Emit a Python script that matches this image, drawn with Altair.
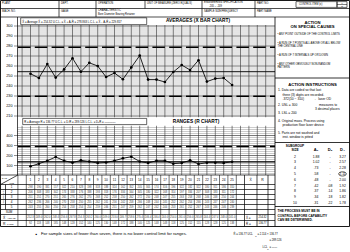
import altair as alt
import pandas as pd

W, H = 350, 252
FONT = "Liberation Sans"

# ---------------- data ----------------
subgroups = list(range(1, 26))
averages = [252.3, 248.0, 262.0, 248.4, 256.6, 267.8, 254.3, 263.2, 260.0, 249.0,
            253.0, 246.7, 258.6, 270.4, 246.4, 246.4, 244.0, 254.0, 261.0, 256.0,
            265.8, 244.4, 247.4, 248.0, 241.0]
ranges_ = [92, 118, 148, 185, 148, 128, 152, 140, 125, 130, 148, 172, 188, 140, 125,
           148, 148, 118, 125, 152, 115, 128, 128, 125, 138]
meas1 = [298, 190, 331, 157, 322, 210, 328, 198, 318, 188, 324, 162, 352, 205, 305, 174, 316, 196, 322, 182, 322, 180, 311, 186, 310]
meas2 = [206, 308, 183, 342, 174, 338, 176, 338, 193, 318, 176, 334, 164, 345, 180, 322, 168, 314, 197, 334, 207, 308, 183, 311, 172]
meas3 = [251, 251, 270, 251, 265, 276, 262, 270, 268, 252, 258, 250, 262, 272, 250, 248, 247, 255, 263, 258, 268, 246, 248, 250, 244]
meas4 = [262, 236, 266, 240, 270, 258, 250, 255, 262, 241, 256, 242, 258, 266, 248, 244, 245, 252, 262, 254, 266, 243, 247, 247, 240]
meas5 = [243, 255, 260, 250, 254, 258, 254, 254, 259, 246, 251, 247, 259, 262, 247, 242, 244, 253, 261, 252, 267, 243, 246, 246, 239]

xbar_center, xbar_ucl, xbar_lcl = 254.32, 278.863, 229.817
r_center, r_ucl = 136.77, 289.126
avg_ticks = [210, 220, 230, 240, 250, 260, 270, 280, 290, 300]
range_ticks = [100, 200, 300, 400]

sub_sizes = ["2", "3", "4", "5", "6", "7", "8", "9", "10"]
a2_vals = ["1.88", "1.02", ".73", ".58", ".48", ".42", ".37", ".34", ".31"]
d3_vals = ["-", "-", "-", "-", "-", ".08", ".14", ".18", ".22"]
d4_vals = ["3.27", "2.57", "2.28", "2.11", "2.00", "1.92", "1.86", "1.82", "1.78"]

XB = "X\u0304"
RB = "R\u0304"

# ---------------- scales ----------------
PXS = alt.Scale(domain=[0, W], range=[0, W], nice=False, zero=False)
PYS = alt.Scale(domain=[0, H], range=[0, H], nice=False, zero=False)
SUBX = alt.Scale(domain=[1, 25], range=[30.5, 232.1], nice=False, zero=False)
AVGY = alt.Scale(domain=[210, 300], range=[116, 26], nice=False, zero=False)
RNGY = alt.Scale(domain=[0, 400], range=[175.5, 135.5], nice=False, zero=False)


def T(rows, size, weight="normal", align="left", color="black", angle=0):
    df = pd.DataFrame(rows, columns=["t", "x", "y"])
    kw = dict(fontSize=size, fontWeight=weight, align=align, baseline="middle",
              font=FONT, color=color)
    if angle:
        kw["angle"] = angle
    return alt.Chart(df).mark_text(**kw).encode(
        x=alt.X("x:Q", scale=PXS, axis=None),
        y=alt.Y("y:Q", scale=PYS, axis=None),
        text="t:N")


def S(rows, color="black", width=0.8, dash=None):
    df = pd.DataFrame(rows, columns=["x", "y", "x2", "y2"])
    kw = dict(color=color, strokeWidth=width)
    if dash:
        kw["strokeDash"] = dash
    return alt.Chart(df).mark_rule(**kw).encode(
        x=alt.X("x:Q", scale=PXS, axis=None),
        y=alt.Y("y:Q", scale=PYS, axis=None),
        x2="x2:Q", y2="y2:Q")


def BOX(rows, fill="white", stroke="black", width=0.7, fill_op=1.0):
    df = pd.DataFrame(rows, columns=["x", "y", "x2", "y2"])
    return alt.Chart(df).mark_rect(fill=fill, fillOpacity=fill_op, stroke=stroke,
                                   strokeWidth=width).encode(
        x=alt.X("x:Q", scale=PXS, axis=None),
        y=alt.Y("y:Q", scale=PYS, axis=None),
        x2="x2:Q", y2="y2:Q")


L = []

# ---------------- averages chart grid ----------------
L.append(alt.Chart(pd.DataFrame({"v": list(range(210, 301, 2))})).mark_rule(
    color="#a0a0a0", strokeWidth=0.55).encode(
    y=alt.Y("v:Q", scale=AVGY, axis=None), x=alt.value(17.5), x2=alt.value(275)))
L.append(alt.Chart(pd.DataFrame({"v": avg_ticks})).mark_rule(
    color="#333", strokeWidth=0.55).encode(
    y=alt.Y("v:Q", scale=AVGY, axis=None), x=alt.value(14), x2=alt.value(275)))
L.append(alt.Chart(pd.DataFrame({"i": list(range(0, 30))})).mark_rule(
    color="#333", strokeWidth=0.6).encode(
    x=alt.X("i:Q", scale=SUBX, axis=None), y=alt.value(25), y2=alt.value(117.5)))

# ---------------- range chart grid ----------------
L.append(alt.Chart(pd.DataFrame({"v": list(range(20, 481, 20))})).mark_rule(
    color="#a0a0a0", strokeWidth=0.55).encode(
    y=alt.Y("v:Q", scale=RNGY, axis=None), x=alt.value(17.5), x2=alt.value(275)))
L.append(alt.Chart(pd.DataFrame({"v": range_ticks})).mark_rule(
    color="#333", strokeWidth=0.55).encode(
    y=alt.Y("v:Q", scale=RNGY, axis=None), x=alt.value(14), x2=alt.value(275)))
L.append(alt.Chart(pd.DataFrame({"i": list(range(0, 30))})).mark_rule(
    color="#333", strokeWidth=0.6).encode(
    x=alt.X("i:Q", scale=SUBX, axis=None), y=alt.value(125.5), y2=alt.value(175)))

# axis labels
L.append(alt.Chart(pd.DataFrame({"v": avg_ticks})).mark_text(
    fontSize=3.8, align="right", baseline="middle", font=FONT).encode(
    y=alt.Y("v:Q", scale=AVGY, axis=None), x=alt.value(12.5), text="v:Q"))
L.append(alt.Chart(pd.DataFrame({"v": range_ticks})).mark_text(
    fontSize=3.8, align="right", baseline="middle", font=FONT).encode(
    y=alt.Y("v:Q", scale=RNGY, axis=None), x=alt.value(12.5), text="v:Q"))

# white strips with label boxes and titles
L.append(BOX([(17.5, 17, 275, 25), (17.5, 117.5, 275, 125.5)], stroke="white", width=0))
L.append(BOX([(20.7, 17.8, 146.7, 24.6), (22.7, 118.4, 146.7, 124.6)], width=0.6))
L.append(T([(f"{XB} = Average {XB} = 254.32   U.C.L. = {XB} + A\u2082{RB} = 278.863   L.C.L. = {XB} \u2212 A\u2082{RB} = 229.817", 22.3, 21.3)], 2.8))
L.append(T([(f"{RB} = Average R = 136.77   U.C.L. = D\u2084{RB} = 289.126   L.C.L. = D\u2083{RB} = \u2014\u2014\u2014\u2014", 24.3, 121.5)], 2.8))
L.append(T([(f"AVERAGES ({XB} BAR CHART)", 198, 21.4), ("RANGES (R CHART)", 196, 121.6)], 4.8, weight="bold", align="center"))

# ---------------- control lines ----------------
L.append(alt.Chart(pd.DataFrame({"v": [xbar_ucl, xbar_lcl]})).mark_rule(
    color="black", strokeWidth=1.5, strokeDash=[12.5, 4.3]).encode(
    y=alt.Y("v:Q", scale=AVGY, axis=None), x=alt.value(18), x2=alt.value(275)))
L.append(alt.Chart(pd.DataFrame({"v": [xbar_center]})).mark_rule(
    color="black", strokeWidth=0.9).encode(
    y=alt.Y("v:Q", scale=AVGY, axis=None), x=alt.value(17.5), x2=alt.value(275)))
L.append(alt.Chart(pd.DataFrame({"v": [r_ucl]})).mark_rule(
    color="black", strokeWidth=1.5, strokeDash=[12.5, 4.3]).encode(
    y=alt.Y("v:Q", scale=RNGY, axis=None), x=alt.value(18), x2=alt.value(275)))
L.append(alt.Chart(pd.DataFrame({"v": [r_center]})).mark_rule(
    color="black", strokeWidth=1.2).encode(
    y=alt.Y("v:Q", scale=RNGY, axis=None), x=alt.value(17.5), x2=alt.value(275)))

# ---------------- data ----------------
avg_df = pd.DataFrame({"s": subgroups, "v": averages})
rng_df = pd.DataFrame({"s": subgroups, "v": ranges_})
for df, ys in ((avg_df, AVGY), (rng_df, RNGY)):
    L.append(alt.Chart(df).mark_line(color="black", strokeWidth=0.85).encode(
        x=alt.X("s:Q", scale=SUBX, axis=None), y=alt.Y("v:Q", scale=ys, axis=None)))
    L.append(alt.Chart(df).mark_point(filled=True, color="black", size=7, opacity=1).encode(
        x=alt.X("s:Q", scale=SUBX, axis=None), y=alt.Y("v:Q", scale=ys, axis=None)))

# ---------------- header ----------------
L.append(S([(0.5, 8.5, 349.5, 8.5), (0.5, 17, 349.5, 17),
            (59, 0.5, 59, 17), (96, 0.5, 96, 17), (145, 0.5, 145, 8.5),
            (202, 0.5, 202, 17), (255, 0.5, 255, 17)], width=0.7))
L.append(BOX([(296, 1.6, 337, 7.4), (337, 1.6, 347, 7.4)], width=0.6, fill_op=0))
L.append(S([(337, 4.5, 347, 4.5)], width=0.5))
L.append(T([("PLANT", 2, 3.2), ("DEPT.", 61, 3.2), ("OPERATION", 98, 3.2),
            ("UNIT OF MEASURE   (ZERO EQUALS)", 147, 3.2),
            ("ENGINEERING SPECIFICATION", 204, 2.8), (".205  \u2013  .209", 209, 6.3),
            ("PART NO.", 257, 3.2), ("CONTROL ITEM (x)", 299, 4.6),
            ("MACH. NO.", 2, 11), ("GAGE", 61, 11), ("CHARACTERISTIC", 98, 10.6),
            ("Bore Diameter Bearing Retainer", 98, 14.2),
            ("SAMPLE SIZE/FREQUENCY", 204, 11), ("PART NAME", 257, 11)], 2.6))
L.append(T([(XB, 342, 3.1), ("R", 342, 6.0)], 2.4, align="center"))

# ---------------- right panel ----------------
L.append(S([(275, 17, 275, 226.5), (275, 78, 349.5, 78), (275, 142.5, 349.5, 142.5),
            (275, 206.5, 349.5, 206.5)], width=0.8))
L.append(T([("ACTION", 312.5, 22.5), ("ON SPECIAL CAUSES", 312.5, 27.4),
            ("ACTION INSTRUCTIONS", 312.5, 85)], 4.2, weight="bold", align="center"))
L.append(T([("\u2022 ANY POINT OUTSIDE OF THE CONTROL LIMITS", 277.5, 34.4),
            ("\u2022 A RUN OF 7 POINTS ALL ABOVE OR ALL BELOW", 277.5, 43.3),
            ("   THE CENTRAL LINE", 277.5, 46.8),
            ("\u2022 A RUN OF 7 INTERVALS UP OR DOWN", 277.5, 55.4),
            ("\u2022 ANY OTHER OBVIOUSLY NON-RANDOM", 277.5, 64.3),
            ("   PATTERN", 277.5, 67.8)], 2.7))
L.append(T([("1. Data are coded so that last", 278, 90.2),
            ("three (3) digits are recorded.", 282.5, 94.8),
            (".372(10 \u2212 310)", 282.5, 99.4), ("\u2190 laser OD", 314, 99.4),
            ("2. USL = 300", 278, 104.5), ("measures to", 319, 104.5),
            ("3 decimal places", 315, 109),
            ("3. LSL = 200", 278, 113),
            ("4. Original mass. Process using", 278, 120.8),
            ("production floor laser device", 282.5, 125.3),
            ("5. Parts are not washed and", 278, 132.8),
            ("inst. window is pitted", 282.5, 137.4)], 3.3))
L.append(T([("SUBGROUP", 295, 146), ("SIZE", 295, 150.2)], 3.2, weight="bold", align="center"))
L.append(T([("A\u2082", 316, 149.5), ("D\u2083", 330, 149.5), ("D\u2084", 342.5, 149.5)], 4.0, weight="bold", align="center"))
row_y = [156.5 + 5.8 * k for k in range(len(sub_sizes))]
L.append(T([(v, 295, y) for v, y in zip(sub_sizes, row_y)]
           + [(v, 316, y) for v, y in zip(a2_vals, row_y)]
           + [(v, 330, y) for v, y in zip(d3_vals, row_y)]
           + [(v, 342.5, y) for v, y in zip(d4_vals, row_y)], 3.4, align="center"))
L.append(alt.Chart(pd.DataFrame({"x": [342.5], "y": [row_y[3]]})).mark_point(
    shape="M-1,0 A1,0.55 0 1,1 1,0 A1,0.55 0 1,1 -1,0 Z", size=60, filled=False,
    color="black", strokeWidth=0.6, opacity=1).encode(
    x=alt.X("x:Q", scale=PXS, axis=None), y=alt.Y("y:Q", scale=PYS, axis=None)))
L.append(T([("THE PROCESS MUST BE IN", 277.5, 211.3),
            ("CONTROL BEFORE CAPABILITY", 277.5, 215.8),
            ("CAN BE DETERMINED.", 277.5, 220.3)], 3.2, weight="bold"))

# ---------------- data table ----------------
tbl_h = [175, 184.5, 189.5, 194.5, 199.5, 204.5, 209.5, 214.5, 220.5]
L.append(S([(0.5, y, 275, y) for y in tbl_h], width=0.7))
L.append(S([(17.5, 17, 17.5, 175), (5.5, 184.5, 5.5, 209.5), (0.5, 184.5, 17.9, 175),
            (244.5, 175, 244.5, 226.5), (257, 175, 257, 226.5), (268, 175, 268, 226.5)], width=0.7))
L.append(alt.Chart(pd.DataFrame({"i": [k + 0.5 for k in range(-1, 26)]})).mark_rule(
    color="black", strokeWidth=0.55).encode(
    x=alt.X("i:Q", scale=SUBX, axis=None), y=alt.value(175), y2=alt.value(226.5)))
L.append(alt.Chart(pd.DataFrame({"s": subgroups})).mark_text(
    fontSize=3.2, align="center", baseline="middle", font=FONT).encode(
    x=alt.X("s:Q", scale=SUBX, axis=None), y=alt.value(180), text="s:Q"))
L.append(T([(XB, 250.7, 180), ("R", 262.5, 180)], 3.4, align="center"))
L.append(T([("DATE", 2, 177.5), ("TIME", 9.5, 182.5)], 1.9))

cells = []
for row, y in zip([meas1, meas2, meas3, meas4, meas5], [187, 192, 197, 202, 207]):
    for s, v in zip(subgroups, row):
        cells.append({"s": s, "y": y, "t": str(v)})
for s, v in zip(subgroups, averages):
    cells.append({"s": s, "y": 217.5, "t": f"{v:.1f}"})
for s, v in zip(subgroups, ranges_):
    cells.append({"s": s, "y": 223.5, "t": str(v)})
L.append(alt.Chart(pd.DataFrame(cells)).mark_text(
    fontSize=2.6, align="center", baseline="middle", font=FONT, color="#333").encode(
    x=alt.X("s:Q", scale=SUBX, axis=None), y=alt.Y("y:Q", scale=PYS, axis=None), text="t:N"))

L.append(T([("1", 11.5, 187), ("2", 11.5, 192), ("3", 11.5, 197), ("4", 11.5, 202),
            ("5", 11.5, 207), ("SUM", 9, 212)], 3.0, align="center"))
L.append(T([(XB, 3, 217.5), ("R", 3, 223.5)], 3.4))
L.append(T([("AVERAGE", 7, 217.5), ("RANGE", 7, 223.5)], 1.8))
L.append(T([("MEASUREMENTS", 3, 197)], 1.8, align="center", angle=270))
L.append(T([(f"{XB} =", 246, 217.5), (f"{RB} =", 246, 223.5)], 3.0))
L.append(T([("254.32", 262.5, 217.5), ("136.77", 262.5, 223.5)], 2.7, align="center"))

# outer border
L.append(BOX([(0.5, 0.5, 349.5, 226.5)], width=0.9, fill_op=0))

# ---------------- footer ----------------
L.append(T([("\u25aa", 35.5, 234.2)], 5))
L.append(T([("For sample sizes of fewer than seven, there is no lower control limit for ranges.", 41, 234.2)], 4.2))
L.append(T([(f"{RB} = 136.77   UCL", 233.5, 234.2), ("= 2.114 \u00d7 136.77", 257.5, 234.2),
            ("= 289.126", 269.5, 240.7), ("LCL", 262.5, 247.3), ("= \u2014\u2014", 269.5, 247.3)], 2.7))
L.append(T([("R", 255.2, 235.3), ("R", 267.3, 248.4)], 1.8))

chart = alt.layer(*L).resolve_scale(x="independent", y="independent").properties(
    width=W, height=H, autosize=alt.AutoSizeParams(type="none"), padding=0,
    background="white"
).configure_view(stroke=None)

chart.save("out.html", embed_options={"renderer": "svg", "actions": False})
